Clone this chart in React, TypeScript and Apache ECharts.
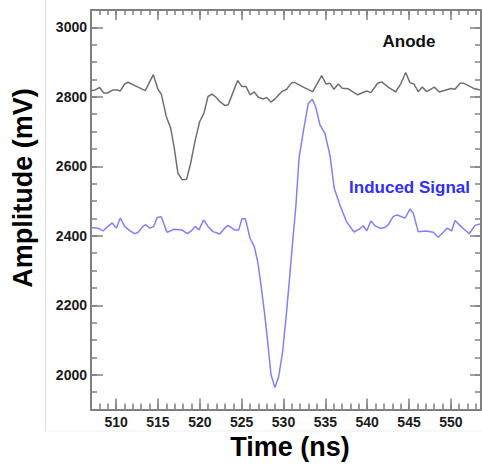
import React, { useEffect, useRef } from "react";
import * as echarts from "echarts";

// ---- data (ns, mV) ----
const anodeTime = [507.04, 507.51, 508.04, 508.52, 508.95, 509.63, 510.14, 510.5, 511.03, 511.42, 512.62, 513.49, 514.44, 515.0, 515.4, 516.0, 516.52, 516.92, 517.39, 517.91, 518.43, 518.91, 519.46, 519.99, 520.5, 520.98, 521.46, 521.97, 522.41, 523.01, 523.4, 524.0, 524.53, 525.0, 525.52, 526.0, 526.51, 526.99, 527.59, 527.99, 528.51, 528.98, 529.78, 530.38, 530.98, 531.37, 532.36, 533.49, 534.56, 535.08, 535.55, 536.03, 536.55, 537.02, 537.74, 538.86, 539.94, 540.45, 541.25, 541.73, 542.52, 543.4, 544.04, 544.6, 545.11, 545.59, 546.1, 546.58, 547.11, 548.02, 548.61, 550.01, 550.49, 551.09, 551.56, 552.67, 553.48];
const anodeMv = [2818, 2820, 2827, 2811, 2811, 2820, 2820, 2817, 2837, 2842, 2828, 2818, 2864, 2822, 2808, 2743, 2710, 2657, 2580, 2561, 2563, 2609, 2676, 2729, 2753, 2801, 2808, 2798, 2786, 2775, 2777, 2815, 2847, 2830, 2830, 2806, 2814, 2799, 2794, 2798, 2785, 2794, 2815, 2822, 2841, 2841, 2828, 2815, 2861, 2837, 2839, 2822, 2837, 2825, 2823, 2806, 2817, 2812, 2839, 2843, 2828, 2814, 2839, 2870, 2841, 2837, 2815, 2828, 2815, 2828, 2814, 2824, 2822, 2839, 2839, 2825, 2820];

const inducedTime = [507.04, 507.84, 508.43, 509.03, 509.54, 510.02, 510.5, 511.03, 511.62, 512.22, 512.62, 513.21, 513.54, 514.01, 514.49, 514.92, 515.4, 516.08, 516.92, 517.87, 518.51, 518.98, 519.46, 519.9, 520.46, 520.98, 521.58, 522.38, 522.97, 523.37, 524.17, 524.65, 525.04, 525.43, 525.72, 526.0, 526.51, 526.92, 527.31, 527.71, 528.11, 528.51, 528.98, 529.43, 529.9, 530.3, 530.69, 531.1, 531.49, 531.85, 532.36, 532.96, 533.44, 533.85, 534.36, 534.96, 535.55, 536.07, 536.75, 537.55, 538.42, 539.06, 539.53, 539.94, 540.45, 540.93, 541.53, 542.13, 542.52, 543.12, 543.6, 544.52, 545.11, 545.51, 546.1, 547.02, 547.9, 548.49, 549.09, 549.57, 550.09, 550.49, 551.29, 552.2, 552.88, 553.48];
const inducedMv = [2424, 2422, 2414, 2427, 2437, 2422, 2451, 2427, 2415, 2406, 2410, 2427, 2432, 2422, 2427, 2453, 2455, 2410, 2419, 2417, 2406, 2414, 2427, 2417, 2446, 2427, 2412, 2405, 2422, 2430, 2417, 2417, 2449, 2449, 2422, 2393, 2369, 2326, 2259, 2182, 2096, 2000, 1963, 1995, 2067, 2163, 2268, 2384, 2489, 2622, 2699, 2781, 2793, 2771, 2719, 2694, 2632, 2536, 2488, 2440, 2411, 2419, 2429, 2414, 2443, 2429, 2422, 2424, 2432, 2456, 2460, 2451, 2477, 2465, 2412, 2414, 2410, 2396, 2410, 2422, 2414, 2444, 2425, 2406, 2430, 2434];

// tick scheme: labelled major ticks, unlabelled minor ticks
const xMajor = { min: 510, max: 550, step: 5 };
const xMinorStep = 1;
const yMajor = { min: 2000, max: 3000, step: 200 };
const yMinorStep = 50;

const seriesNames = ["Anode", "Induced Signal"];
const axisTitles = { x: "Time (ns)", y: "Amplitude (mV)" };

const X_MIN = 507;
const X_MAX = 553.6;
const Y_MIN = 1900;
const Y_MAX = 3050;

const FONT = "'Liberation Sans', Arial, Helvetica, sans-serif";
const AXIS_COLOR = "#808080";

// main plot box (pixels)
const PLOT = { left: 91, top: 10, right: 481, bottom: 409.5 };
const W = 482;
const H = 465;

const pxPerX = (PLOT.right - PLOT.left) / (X_MAX - X_MIN);
const pxPerY = (PLOT.bottom - PLOT.top) / (Y_MAX - Y_MIN);

const zip = (t: number[], v: number[]) => t.map((x, i) => [x, v[i]]);

const labelStyle = {
  color: "#1a1a1a",
  fontWeight: "bold",
  fontSize: 14,
  fontFamily: FONT,
  formatter: (v: number) => String(v),
};

function xAxisCfg(grid: number, pos: string, min: number, max: number, step: number, len: number, labels: boolean, line: boolean) {
  return {
    type: "value",
    gridIndex: grid,
    position: pos,
    min,
    max,
    interval: step,
    axisLine: { show: line, onZero: false, lineStyle: { color: AXIS_COLOR, width: 2 } },
    axisTick: { show: true, inside: true, length: len, lineStyle: { color: AXIS_COLOR, width: 1.5 } },
    axisLabel: { show: labels, margin: 5, ...labelStyle },
    splitLine: { show: false },
  };
}

function yAxisCfg(grid: number, pos: string, min: number, max: number, step: number, len: number, labels: boolean, line: boolean) {
  return {
    type: "value",
    gridIndex: grid,
    position: pos,
    min,
    max,
    interval: step,
    axisLine: { show: line, onZero: false, lineStyle: { color: AXIS_COLOR, width: 2 } },
    axisTick: { show: true, inside: true, length: len, lineStyle: { color: AXIS_COLOR, width: 1.5 } },
    axisLabel: { show: labels, margin: 4, ...labelStyle },
    splitLine: { show: false },
  };
}

const hidden = (grid: number) => ({ type: "value", gridIndex: grid, show: false, min: 0, max: 1 });

export default function App() {
  const ref = useRef<HTMLDivElement>(null);
  useEffect(() => {
    if (!ref.current) return;
    const chart = echarts.init(ref.current, undefined, { renderer: "svg" });

    const xMajLeft = PLOT.left + (xMajor.min - X_MIN) * pxPerX;
    const xMajRight = PLOT.left + (xMajor.max - X_MIN) * pxPerX;
    const yMajTop = PLOT.top + (Y_MAX - yMajor.max) * pxPerY;
    const yMajBottom = PLOT.top + (Y_MAX - yMajor.min) * pxPerY;

    chart.setOption({
      animation: false,
      backgroundColor: "#ffffff",
      grid: [
        { left: PLOT.left, top: PLOT.top, right: W - PLOT.right, bottom: H - PLOT.bottom },
        { left: xMajLeft, top: PLOT.top, right: W - xMajRight, bottom: H - PLOT.bottom },
        { left: PLOT.left, top: yMajTop, right: W - PLOT.right, bottom: H - yMajBottom },
      ],
      xAxis: [
        xAxisCfg(0, "bottom", X_MIN, X_MAX, xMinorStep, 6, false, true),
        xAxisCfg(0, "top", X_MIN, X_MAX, xMinorStep, 5, false, true),
        xAxisCfg(1, "bottom", xMajor.min, xMajor.max, xMajor.step, 11, true, false),
        xAxisCfg(1, "top", xMajor.min, xMajor.max, xMajor.step, 10, false, false),
        hidden(2),
      ],
      yAxis: [
        yAxisCfg(0, "left", Y_MIN, Y_MAX, yMinorStep, 6, false, true),
        yAxisCfg(0, "right", Y_MIN, Y_MAX, yMinorStep, 6, false, true),
        hidden(1),
        yAxisCfg(2, "left", yMajor.min, yMajor.max, yMajor.step, 12, true, false),
        yAxisCfg(2, "right", yMajor.min, yMajor.max, yMajor.step, 11, false, false),
      ],
      series: [
        {
          name: seriesNames[0],
          type: "line",
          xAxisIndex: 0,
          yAxisIndex: 0,
          data: zip(anodeTime, anodeMv),
          showSymbol: false,
          lineStyle: { color: "#707070", width: 1.5 },
        },
        {
          name: seriesNames[1],
          type: "line",
          xAxisIndex: 0,
          yAxisIndex: 0,
          data: zip(inducedTime, inducedMv),
          showSymbol: false,
          lineStyle: { color: "#8080ff", width: 1.5 },
        },
      ],
      graphic: [
        { type: "line", shape: { x1: 45.5, y1: 0, x2: 45.5, y2: 431 }, style: { stroke: "#dcdcdc", lineWidth: 1 } },
        { type: "line", shape: { x1: 45.5, y1: 431, x2: 482, y2: 431 }, style: { stroke: "#eeeeee", lineWidth: 1 } },
        {
          type: "text",
          x: 23,
          y: 188,
          rotation: Math.PI / 2,
          style: { text: axisTitles.y, font: `bold 27px ${FONT}`, fill: "#000", align: "center", verticalAlign: "middle" },
        },
        {
          type: "text",
          x: 290,
          y: 447,
          style: { text: axisTitles.x, font: `bold 27px ${FONT}`, fill: "#000", align: "center", verticalAlign: "middle" },
        },
        {
          type: "text",
          x: 409,
          y: 41,
          style: { text: seriesNames[0], font: `bold 17px ${FONT}`, fill: "#111", align: "center", verticalAlign: "middle" },
        },
        {
          type: "text",
          x: 409.5,
          y: 187,
          style: { text: seriesNames[1], font: `bold 17px ${FONT}`, fill: "#2f2ff5", align: "center", verticalAlign: "middle" },
        },
      ],
    });
    return () => chart.dispose();
  }, []);
  return <div ref={ref} style={{ position: "fixed", left: 0, top: 0, width: W, height: H }} />;
}
